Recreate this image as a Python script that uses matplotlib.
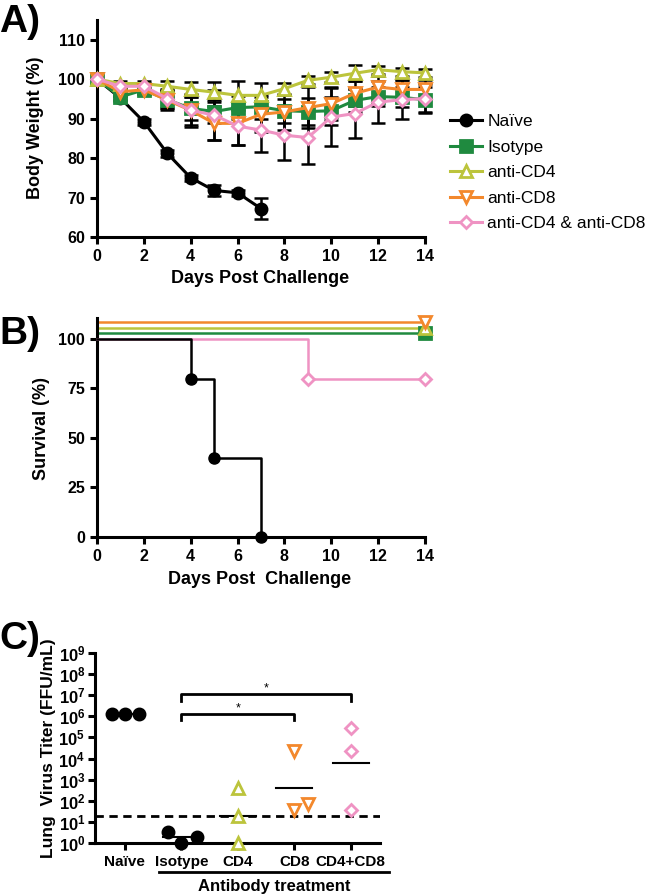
import numpy as np
import matplotlib
matplotlib.use("Agg")
import matplotlib.pyplot as plt
from matplotlib.lines import Line2D

plt.rcParams['font.family'] = ['Liberation Sans', 'DejaVu Sans']
plt.rcParams['mathtext.fontset'] = 'custom'
plt.rcParams['mathtext.rm'] = 'Liberation Sans:bold'
plt.rcParams['mathtext.bf'] = 'Liberation Sans:bold'
plt.rcParams['mathtext.it'] = 'Liberation Sans:bold'

# ---------------- data ----------------
groups = ["Naïve", "Isotype", "anti-CD4", "anti-CD8", "anti-CD4 & anti-CD8"]
colors = ["#000000", "#1f8a3f", "#bcc43c", "#f3882c", "#ef93c3"]
markers = ["o", "s", "^", "v", "D"]

days_naive = [0, 1, 2, 3, 4, 5, 6, 7]
days = list(range(15))
bw_naive = [100, 95.2, 89.2, 81.2, 75.0, 71.8, 71.2, 67.2]
bw_naive_err = [0, 0.6, 0.8, 0.8, 0.8, 1.3, 0.8, 2.7]
bw_iso = [100, 95.5, 97.3, 94.8, 92.6, 91.8, 92.8, 93.0, 92.0, 91.8, 92.0, 94.6, 95.6, 95.4, 94.8]
bw_iso_err = [0, 1.0, 1.0, 2.2, 3.0, 3.0, 3.0, 3.0, 3.0, 3.5, 3.5, 3.0, 2.5, 2.5, 3.2]
bw_cd4 = [100, 98.9, 98.9, 98.2, 97.4, 96.7, 95.9, 95.9, 97.6, 99.7, 100.5, 101.5, 102.4, 101.9, 101.6]
bw_cd4_err = [0, 0.6, 0.6, 1.3, 1.9, 2.6, 3.7, 3.2, 1.5, 1.0, 1.2, 2.0, 1.0, 1.0, 1.0]
bw_cd8 = [100, 96.8, 97.3, 94.7, 92.1, 88.8, 88.8, 91.1, 91.7, 92.8, 93.8, 96.4, 98.0, 97.4, 97.4]
bw_cd8_err = [0, 1.0, 1.0, 2.5, 3.8, 4.3, 5.5, 4.5, 4.5, 5.2, 4.2, 3.2, 2.8, 2.5, 2.5]
bw_dbl = [100, 98.2, 98.2, 95.1, 92.1, 90.9, 88.1, 87.1, 85.8, 85.2, 90.4, 91.3, 94.2, 94.8, 95.1]
bw_dbl_err = [0, 0.8, 0.8, 2.5, 4.2, 6.4, 4.9, 5.6, 6.2, 6.8, 7.3, 6.1, 5.4, 5.0, 3.6]

# survival (Kaplan-Meier steps)
surv_naive_t = [0, 4, 5, 7]
surv_naive_v = [100, 80, 40, 0]
surv_dbl_t = [0, 9]
surv_dbl_v = [100, 80]
surv_other_t = [0]
surv_other_v = [100]
surv_end = 14
surv_offset = [0, 3.0, 5.8, 8.7, 0]   # display offset of overlapping curves

# lung virus titer
titer_cats = ["Naïve", "Isotype", "CD4", "CD8", "CD4+CD8"]
titer_naive = [1.35e6, 1.35e6, 1.35e6]
titer_iso = [3.2, 1.0, 2.0]
titer_cd4 = [400, 19.5, 1.0]
titer_cd8 = [2.4e4, 35, 72]
titer_dbl = [2.9e5, 2.4e4, 35]
titer_jitter = [[-0.23, 0.0, 0.25], [-0.23, 0.0, 0.27], [0, 0, 0], [0, 0, 0.25], [0, 0, 0]]
detection_limit = 20

# ---------------- figure ----------------
W, H = 650, 896
fig = plt.figure(figsize=(W / 100, H / 100), dpi=100)

def px_axes(l, t, r, b):
    return fig.add_axes([l / W, 1 - b / H, (r - l) / W, (b - t) / H])

def style(ax, size=11.5):
    for s in ["top", "right"]:
        ax.spines[s].set_visible(False)
    for s in ["left", "bottom"]:
        ax.spines[s].set_linewidth(2.2)
    ax.tick_params(direction="out", length=5, width=2.2, labelsize=size)
    for lab in ax.get_xticklabels() + ax.get_yticklabels():
        lab.set_fontweight("bold")

# ---- Panel A ----
axA = px_axes(97, 20, 425, 237)
series = [(days_naive, bw_naive, bw_naive_err), (days, bw_iso, bw_iso_err),
          (days, bw_cd4, bw_cd4_err), (days, bw_cd8, bw_cd8_err), (days, bw_dbl, bw_dbl_err)]
for i, (x, y, e) in enumerate(series):
    filled = i < 2
    axA.errorbar(x, y, yerr=e, fmt="none", ecolor="black", elinewidth=1.8,
                 capsize=5, capthick=1.8, zorder=2, clip_on=False)
    axA.plot(x, y, color=colors[i], lw=2.2, marker=markers[i],
             markersize=8 if i != 4 else 6.5,
             markerfacecolor=colors[i] if filled else "white",
             markeredgecolor=colors[i], markeredgewidth=2.0,
             label=groups[i], zorder=3 + i, clip_on=False)
axA.set_xlim(0, 14)
axA.set_ylim(60, 115)
axA.set_xticks(range(0, 15, 2))
axA.set_yticks(range(60, 111, 10))
style(axA)
leg = axA.legend(loc="upper left", bbox_to_anchor=(450 / W, 1 - 114 / H),
                 bbox_transform=fig.transFigure, frameon=False, fontsize=12.5,
                 handlelength=1.85, handletextpad=0.3, labelspacing=0.6,
                 borderpad=0, borderaxespad=0)
fig.text(260 / W, 1 - 278 / H, "Days Post Challenge", ha="center", va="center",
         fontsize=13, fontweight="bold")
fig.text(35 / W, 1 - 128 / H, "Body Weight (%)", ha="center", va="center",
         rotation=90, fontsize=13, fontweight="bold")

# ---- Panel B ----
axB = px_axes(97, 318, 425, 537)
def km(t, v, end):
    xs, ys = [t[0]], [v[0]]
    for k in range(1, len(t)):
        xs += [t[k], t[k]]
        ys += [v[k - 1], v[k]]
    xs.append(end)
    ys.append(v[-1])
    return xs, ys

for i in [1, 2, 3]:
    xs, ys = km(surv_other_t, surv_other_v, surv_end)
    ys = [y + surv_offset[i] for y in ys]
    axB.plot(xs, ys, color=colors[i], lw=1.8, zorder=2, clip_on=False)
    axB.plot([surv_end], [surv_other_v[-1] + surv_offset[i]], marker=markers[i],
             markersize=8, color=colors[i],
             markerfacecolor=colors[i] if i == 1 else "white",
             markeredgewidth=2, zorder=3 + i, clip_on=False)
xs, ys = km(surv_dbl_t, surv_dbl_v, surv_end)
axB.plot(xs, ys, color=colors[4], lw=1.8, zorder=3, clip_on=False)
axB.plot([surv_dbl_t[1], surv_end], [surv_dbl_v[1], surv_dbl_v[1]], ls="none",
         marker="D", markersize=6.5, color=colors[4], markerfacecolor="white",
         markeredgewidth=2, zorder=4, clip_on=False)
xs, ys = km(surv_naive_t, surv_naive_v, surv_end)
axB.plot(xs, ys, color="black", lw=1.8, zorder=5, clip_on=False)
axB.plot(surv_naive_t[1:], surv_naive_v[1:], ls="none", marker="o", markersize=8,
         color="black", zorder=6, clip_on=False)
axB.set_xlim(0, 14)
axB.set_ylim(0, 110.6)
axB.set_xticks(range(0, 15, 2))
axB.set_yticks([0, 25, 50, 75, 100])
style(axB)
fig.text(260 / W, 1 - 579 / H, "Days Post  Challenge", ha="center", va="center",
         fontsize=13, fontweight="bold")
fig.text(42 / W, 1 - 428 / H, "Survival (%)", ha="center", va="center",
         rotation=90, fontsize=13, fontweight="bold")

# ---- Panel C ----
axC = px_axes(95, 653, 380, 843)
titers = [titer_naive, titer_iso, titer_cd4, titer_cd8, titer_dbl]
cstyle = [("o", "black", True), ("o", "black", True), ("^", colors[2], False),
          ("v", colors[3], False), ("D", colors[4], False)]
axC.axhline(detection_limit, color="black", lw=2, ls=(0, (3, 2)), zorder=1)
for i, vals in enumerate(titers):
    m, c, filled = cstyle[i]
    xs = [i + j for j in titer_jitter[i]]
    axC.plot(xs, vals, ls="none", marker=m, markersize=8 if m != "D" else 6.5,
             color=c, markerfacecolor=c if filled else "white",
             markeredgewidth=2, zorder=3, clip_on=False)
    gm = np.exp(np.mean(np.log(vals)))
    axC.plot([i - 0.32, i + 0.32], [gm, gm], color="black", lw=1.5, zorder=2)
axC.set_yscale("log")
axC.set_ylim(1, 1e9)
axC.set_xlim(-0.53, 4.52)
axC.set_yticks([10.0 ** k for k in range(10)])
axC.set_yticklabels([r"$10^{%d}$" % k for k in range(10)])
axC.yaxis.set_minor_locator(matplotlib.ticker.NullLocator())
axC.set_xticks(range(5))
axC.set_xticklabels(titer_cats)
style(axC, 11)
axC.tick_params(axis="y", labelsize=12, pad=2)

# significance brackets
def bracket(x1, x2, y, ydrop):
    axC.plot([x1, x1, x2, x2], [ydrop, y, y, ydrop], color="black", lw=2,
             clip_on=False, zorder=4)
    axC.text((x1 + x2) / 2, y * 1.9, "*", ha="center", va="center", fontsize=9)

bracket(1, 4, 1.1e7, 5.5e6)
bracket(1, 3, 1.25e6, 6.5e5)

fig.add_artist(Line2D([159 / W, 389 / W], [1 - 872 / H, 1 - 872 / H],
                      color="black", lw=2, transform=fig.transFigure))
fig.text(274 / W, 1 - 886 / H, "Antibody treatment", ha="center", va="center",
         fontsize=12, fontweight="bold")
fig.text(48 / W, 1 - 748 / H, "Lung  Virus Titer (FFU/mL)", ha="center",
         va="center", rotation=90, fontsize=12.5, fontweight="bold")

# panel letters
for lab, y in [("A)", 22), ("B)", 334), ("C)", 639)]:
    fig.text(-1 / W, 1 - y / H, lab, ha="left", va="center", fontsize=28,
             fontweight="bold")

fig.savefig("out.png", dpi=100)
